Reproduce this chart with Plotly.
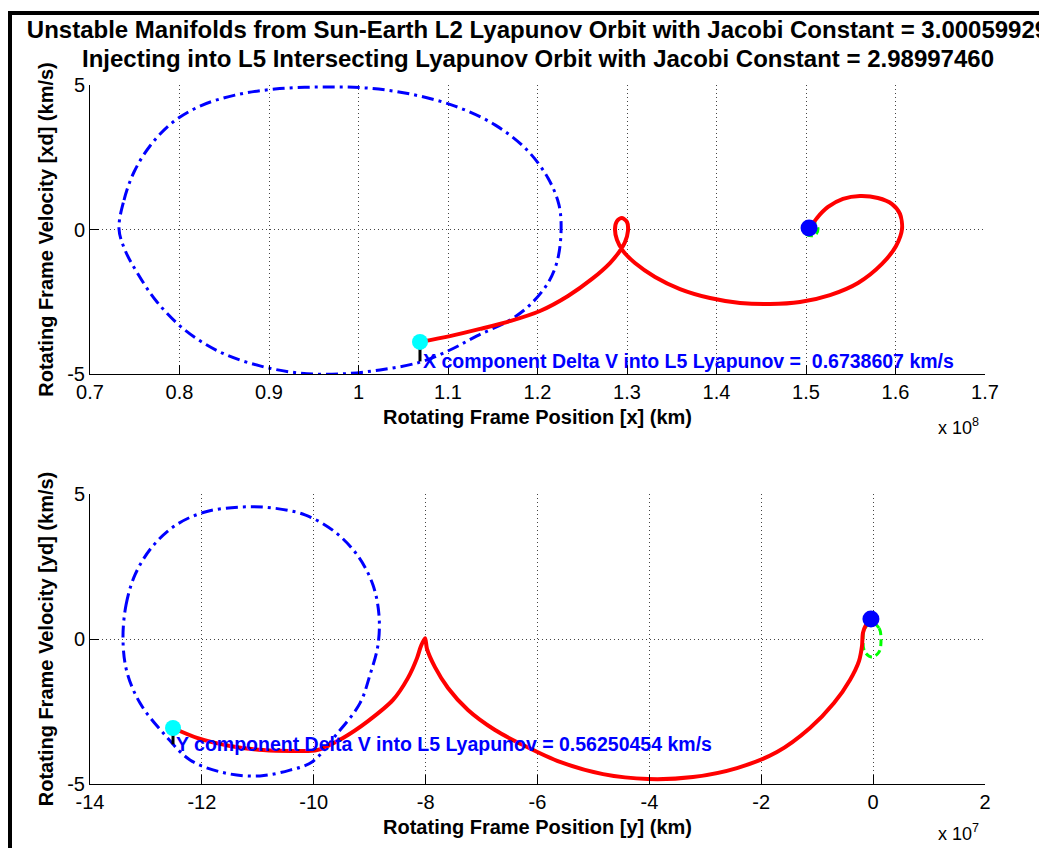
import plotly.graph_objects as go

# ---------------- data ----------------
# Upper panel: x (units of 1e8 km) vs xd (km/s)
l5_orbit_x = [0.7324, 0.7380, 0.7492, 0.7670, 0.7916, 0.8229, 0.8620, 0.9067, 0.9570, 1.0073,
              1.0575, 1.1078, 1.1525, 1.1883, 1.2117, 1.2240, 1.2263, 1.2218, 1.2117, 1.1916,
              1.1693, 1.1324, 1.1022, 1.0687, 1.0240, 0.9793, 0.9346, 0.8899, 0.8453, 0.8061,
              0.7749, 0.7536, 0.7391, 0.7324]
l5_orbit_xd = [0.02, 1.02, 1.99, 2.89, 3.69, 4.27, 4.65, 4.86, 4.93, 4.90,
               4.69, 4.27, 3.62, 2.75, 1.78, 0.85, -0.09, -1.12, -1.85, -2.61,
               -3.13, -3.68, -4.17, -4.59, -4.86, -5.00, -4.97, -4.72, -4.24, -3.48,
               -2.51, -1.54, -0.71, 0.02]

manifold_x = [1.0687, 1.1022, 1.1358, 1.1693, 1.2028, 1.2341, 1.2609, 1.2810, 1.2911, 1.2978,
              1.3011, 1.3000, 1.2944, 1.2888, 1.2866, 1.2888, 1.2955, 1.3089, 1.3313, 1.3592,
              1.3927, 1.4263, 1.4598, 1.4933, 1.5268, 1.5581, 1.5849, 1.6006, 1.6073, 1.6050,
              1.5961, 1.5804, 1.5603, 1.5413, 1.5246, 1.5123, 1.5045]
manifold_xd = [-3.89, -3.69, -3.44, -3.17, -2.82, -2.30, -1.71, -1.16, -0.78, -0.43,
               -0.05, 0.26, 0.40, 0.29, 0.02, -0.36, -0.74, -1.16, -1.64, -2.06,
               -2.37, -2.54, -2.58, -2.51, -2.27, -1.85, -1.19, -0.57, 0.02, 0.54,
               0.88, 1.09, 1.16, 1.06, 0.78, 0.40, 0.05]

l2_orbit_x = [1.5134, 1.5112, 1.5056, 1.5001, 1.4978, 1.5001, 1.5056, 1.5112, 1.5134]
l2_orbit_xd = [0.02, 0.19, 0.26, 0.19, 0.02, -0.16, -0.22, -0.16, 0.02]

l2_start_x, l2_start_xd = 1.5034, 0.05
inject_x, inject_xd = 1.0687, -3.89
delta_v_x = 0.6738607

# Lower panel: y (units of 1e7 km) vs yd (km/s)
l5_orbit_y = [-13.410, -13.356, -13.196, -12.892, -12.463, -11.944, -11.319, -10.746, -10.157, -9.620,
              -9.209, -8.941, -8.834, -8.852, -8.995, -9.173, -9.602, -10.031, -10.425, -10.961,
              -11.587, -12.212, -12.659, -13.106, -13.339, -13.410]
l5_orbit_yd = [-0.03, 1.17, 2.21, 3.17, 3.93, 4.38, 4.55, 4.52, 4.28, 3.69,
               2.86, 1.86, 0.83, -0.21, -1.24, -2.21, -3.31, -4.24, -4.52, -4.72,
               -4.62, -4.17, -3.31, -2.21, -1.14, -0.03]

manifold_y = [-12.516, -12.087, -11.497, -10.907, -10.335, -9.942, -9.477, -9.030, -8.583, -8.315,
              -8.154, -8.083, -8.010, -7.976, -7.833, -7.600, -7.243, -6.760, -6.224, -5.598,
              -4.829, -4.025, -3.221, -2.434, -1.719, -1.129, -0.700, -0.414, -0.253, -0.199,
              -0.182, -0.128, -0.039]
manifold_yd = [-3.07, -3.41, -3.69, -3.83, -3.86, -3.83, -3.41, -2.83, -2.10, -1.34,
               -0.66, -0.24, 0.03, -0.34, -0.97, -1.69, -2.45, -3.14, -3.69, -4.24,
               -4.66, -4.83, -4.76, -4.45, -3.90, -3.07, -2.21, -1.41, -0.76, -0.24,
               0.21, 0.48, 0.69]

l2_orbit_y = [0.141, 0.105, -0.020, -0.146, -0.182, -0.146, -0.020, 0.105, 0.141]
l2_orbit_yd = [-0.03, 0.38, 0.55, 0.38, -0.03, -0.45, -0.62, -0.45, -0.03]

l2_start_y, l2_start_yd = -0.039, 0.69
inject_y, inject_yd = -12.516, -3.07
delta_v_y = 0.56250454

# Axis ticks
x_ticks_top = [0.7, 0.8, 0.9, 1.0, 1.1, 1.2, 1.3, 1.4, 1.5, 1.6, 1.7]
x_ticktext_top = ["0.7", "0.8", "0.9", "1", "1.1", "1.2", "1.3", "1.4", "1.5", "1.6", "1.7"]
x_ticks_bot = [-14, -12, -10, -8, -6, -4, -2, 0, 2]
x_ticktext_bot = ["-14", "-12", "-10", "-8", "-6", "-4", "-2", "0", "2"]
v_ticks = [-5, 0, 5]
v_ticktext = ["-5", "0", "5"]

jacobi_l2 = "3.00059929"
jacobi_l5 = "2.98997460"

# ---------------- figure ----------------
FONT = "Arial, Liberation Sans, Helvetica, sans-serif"
BLUE, RED, GREEN, CYAN = "#0000FF", "#FF0000", "#00FF00", "#00FFFF"
DASHDOT = "12px,5px,3px,5px"
DASH = "7px,4px"

# pixel layout of the two axes boxes
W, H = 1039, 848
L, R, T, B = 90, 985, 85, 784
PW, PH = R - L, B - T


def px_x(px):
    return (px - L) / PW


def px_y(py):
    return (B - py) / PH


fig = go.Figure()


def add_panel(xa, ya, ox, ov, mx, mv, gx, gv, sx, sv, ix, iv, dv):
    fig.add_trace(go.Scatter(x=ox, y=ov, mode="lines", xaxis=xa, yaxis=ya,
                             line=dict(color=BLUE, width=3, dash=DASHDOT, shape="spline")))
    fig.add_trace(go.Scatter(x=gx, y=gv, mode="lines", xaxis=xa, yaxis=ya,
                             line=dict(color=GREEN, width=3, dash=DASH, shape="spline")))
    fig.add_trace(go.Scatter(x=mx, y=mv, mode="lines", xaxis=xa, yaxis=ya,
                             line=dict(color=RED, width=4, shape="spline", smoothing=0.8)))
    fig.add_trace(go.Scatter(x=[ix, ix], y=[iv, iv - dv], mode="lines", xaxis=xa, yaxis=ya,
                             line=dict(color="black", width=3)))
    fig.add_trace(go.Scatter(x=[ix], y=[iv], mode="markers", xaxis=xa, yaxis=ya,
                             marker=dict(color=CYAN, size=16, line=dict(width=0))))
    fig.add_trace(go.Scatter(x=[sx], y=[sv], mode="markers", xaxis=xa, yaxis=ya,
                             marker=dict(color=BLUE, size=17, line=dict(width=0))))


add_panel("x", "y", l5_orbit_x, l5_orbit_xd, manifold_x, manifold_xd, l2_orbit_x, l2_orbit_xd,
          l2_start_x, l2_start_xd, inject_x, inject_xd, delta_v_x)
add_panel("x2", "y2", l5_orbit_y, l5_orbit_yd, manifold_y, manifold_yd, l2_orbit_y, l2_orbit_yd,
          l2_start_y, l2_start_yd, inject_y, inject_yd, delta_v_y)

axis_common = dict(
    showline=True, linecolor="black", linewidth=1, mirror=False,
    ticks="inside", ticklen=9, tickcolor="black", tickwidth=1,
    showgrid=True, gridcolor="#444444", gridwidth=1, griddash="1px,3px",
    zeroline=False, tickfont=dict(family=FONT, size=20, color="black"),
)
title_font = dict(family=FONT, size=20, color="black", weight="bold")

top_dom = [px_y(374), 1.0]
bot_dom = [0.0, px_y(494)]

title_line1 = f"Unstable Manifolds from Sun-Earth L2 Lyapunov Orbit with Jacobi Constant = {jacobi_l2}"
title_line2 = f"Injecting into L5 Intersecting Lyapunov Orbit with Jacobi Constant = {jacobi_l5}"
title_size = 24

fig.update_layout(
    width=W, height=H,
    margin=dict(l=L, r=W - R, t=T, b=H - B),
    paper_bgcolor="white", plot_bgcolor="white",
    showlegend=False,
    font=dict(family=FONT, color="black"),
    title=dict(
        text=title_line1,
        x=0.5, xref="paper", xanchor="center",
        y=(H - 30) / H, yref="container", yanchor="middle",
        font=dict(family=FONT, size=title_size, color="black", weight="bold"),
    ),
    xaxis=dict(axis_common, domain=[0, 1], anchor="y", range=[0.7, 1.7],
               tickvals=x_ticks_top, ticktext=x_ticktext_top,
               title=dict(text="Rotating Frame Position [x] (km)", font=title_font, standoff=7)),
    yaxis=dict(axis_common, domain=top_dom, anchor="x", range=[-5, 5],
               tickvals=v_ticks, ticktext=v_ticktext,
               title=dict(text="Rotating Frame Velocity [xd] (km/s)", font=title_font, standoff=8)),
    xaxis2=dict(axis_common, domain=[0, 1], anchor="y2", range=[-14, 2],
                tickvals=x_ticks_bot, ticktext=x_ticktext_bot,
                title=dict(text="Rotating Frame Position [y] (km)", font=title_font, standoff=7)),
    yaxis2=dict(axis_common, domain=bot_dom, anchor="x2", range=[-5, 5],
                tickvals=v_ticks, ticktext=v_ticktext,
                title=dict(text="Rotating Frame Velocity [yd] (km/s)", font=title_font, standoff=8)),
)

# second title line
fig.add_annotation(x=0.5, y=px_y(58), xref="paper", yref="paper", text=title_line2,
                   showarrow=False, xanchor="center", yanchor="middle",
                   font=dict(family=FONT, size=title_size, color="black", weight="bold"))

label_font = dict(family=FONT, size=19.5, color=BLUE, weight="bold")
fig.add_annotation(x=inject_x, y=inject_xd - delta_v_x, xref="x", yref="y",
                   text=f"X component Delta V into L5 Lyapunov =  {delta_v_x:.7f} km/s",
                   showarrow=False, xanchor="left", yanchor="middle", font=label_font, xshift=1)
fig.add_annotation(x=inject_y, y=inject_yd - delta_v_y, xref="x2", yref="y2",
                   text=f"Y component Delta V into L5 Lyapunov = {delta_v_y:.8f} km/s",
                   showarrow=False, xanchor="left", yanchor="middle", font=label_font, xshift=1)

exp_font = dict(family=FONT, size=18, color="black")
fig.add_annotation(x=px_x(936), y=px_y(426), xref="paper", yref="paper",
                   text="x 10<sup>8</sup>", showarrow=False, xanchor="left", yanchor="middle",
                   font=exp_font)
fig.add_annotation(x=px_x(936), y=px_y(832), xref="paper", yref="paper",
                   text="x 10<sup>7</sup>", showarrow=False, xanchor="left", yanchor="middle",
                   font=exp_font)

# Black window frame along the left and top edges
fig.add_shape(type="line", xref="paper", yref="paper",
              x0=px_x(10), x1=px_x(10), y0=px_y(860), y1=px_y(11),
              line=dict(color="black", width=4))
fig.add_shape(type="line", xref="paper", yref="paper",
              x0=px_x(8), x1=px_x(1050), y0=px_y(13), y1=px_y(13),
              line=dict(color="black", width=4))

fig.write_html("out.html")
